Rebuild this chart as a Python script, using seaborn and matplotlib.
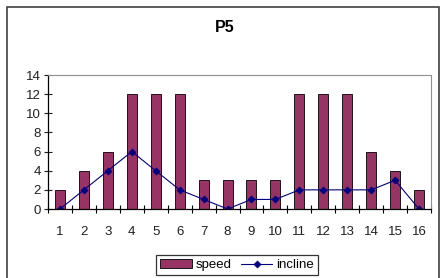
import numpy as np
import pandas as pd
import matplotlib
matplotlib.use("Agg")
import matplotlib.pyplot as plt
from matplotlib.patches import Rectangle
import seaborn as sns

# chart values
stages = [str(i) for i in range(1, 17)]
speed = [2, 4, 6, 12, 12, 12, 3, 3, 3, 3, 12, 12, 12, 6, 4, 2]
incline = [0, 2, 4, 6, 4, 2, 1, 0, 1, 1, 2, 2, 2, 2, 3, 0]
y_ticks = [0, 2, 4, 6, 8, 10, 12, 14]

sns.set_theme(style="white")
plt.rcParams['font.family'] = ['Liberation Sans', 'DejaVu Sans']
plt.rcParams['text.color'] = 'black'

df = pd.DataFrame({'stage': stages, 'speed': speed, 'incline': incline})

W, H = 443, 278
fig = plt.figure(figsize=(W / 100, H / 100), dpi=100)
fig.patch.set_facecolor('white')
ax = fig.add_axes([48 / W, 1 - 209 / H, (431 - 48) / W, (209 - 75) / H])

sns.barplot(data=df, x='stage', y='speed', order=stages, color='#993366',
            width=0.42, edgecolor='black', linewidth=0.6, saturation=1,
            label='speed', ax=ax)
sns.pointplot(data=df, x='stage', y='incline', order=stages, color='#000080',
              markers='D', markersize=3.5, linewidth=0.8, label='incline', ax=ax)

ax.set_xlim(-0.5, 15.5)
ax.set_ylim(0, 14)
ax.set_yticks(y_ticks)
ax.set_xticks(range(len(stages)))
ax.set_xticklabels(stages)
ax.set_xticks(np.arange(-0.5, 16, 1), minor=True)
ax.set_xlabel('')
ax.set_ylabel('')
ax.tick_params(axis='x', which='major', length=0, pad=12, labelsize=9.5, colors='#202020')
ax.tick_params(axis='x', which='minor', length=6, direction='inout', width=0.8,
               colors='black', bottom=True)
ax.tick_params(axis='y', length=6, direction='inout', width=0.8, labelsize=9.5,
               colors='#202020', left=True, pad=2)
ax.grid(False)

for s in ['left', 'bottom']:
    ax.spines[s].set_color('black')
    ax.spines[s].set_linewidth(0.9)
for s in ['top', 'right']:
    ax.spines[s].set_color('#909090')
    ax.spines[s].set_linewidth(0.8)

if ax.get_legend() is not None:
    ax.get_legend().remove()

handles, labels = ax.get_legend_handles_labels()
by_label = dict(zip(labels, handles))
order = ['speed', 'incline']
leg = fig.legend([by_label[k] for k in order], order, loc='upper center', ncol=2,
                 bbox_to_anchor=(237 / W, 1 - 255 / H), frameon=True,
                 fancybox=False, edgecolor='black', fontsize=9.5,
                 handlelength=2.4, handletextpad=0.3, columnspacing=0.7,
                 borderpad=0.3, borderaxespad=0)
leg.get_frame().set_linewidth(0.9)
for t in leg.get_texts():
    t.set_color('black')

fig.text(225 / W, 1 - 28 / H, 'P5', ha='center', va='center',
         fontsize=11.5, fontweight='bold', color='black')

fig.patches.append(Rectangle((7 / W, -0.1), 432 / W, 1 - 7 / H + 0.1,
                             transform=fig.transFigure, fill=False,
                             edgecolor='#404040', linewidth=1.2))

fig.savefig('out.png', dpi=100)
